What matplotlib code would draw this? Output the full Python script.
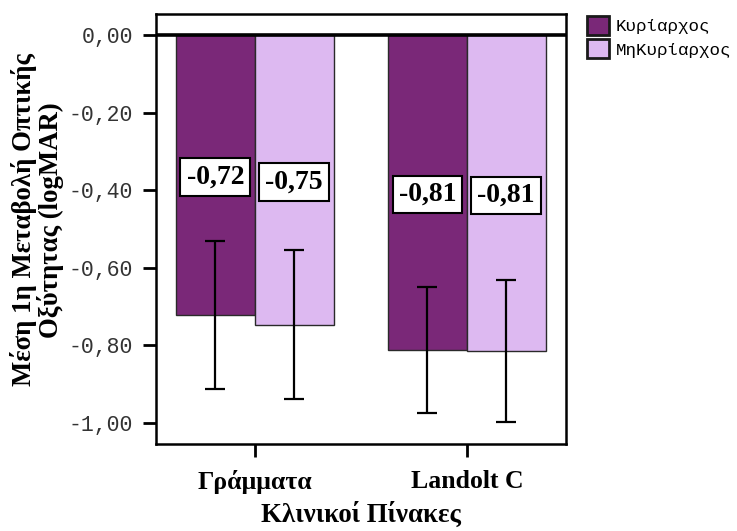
import numpy as np
import matplotlib
matplotlib.use("Agg")
import matplotlib.pyplot as plt
from matplotlib.patches import Patch

# mean change of visual acuity per chart type, dominant / non-dominant eye
categories = ["Γράμματα", "Landolt C"]
groups = ["Κυρίαρχος", "ΜηΚυρίαρχος"]
means = {
    "Κυρίαρχος": [-0.72, -0.81],
    "ΜηΚυρίαρχος": [-0.75, -0.81],
}
bar_heights = {
    "Κυρίαρχος": [-0.722, -0.812],
    "ΜηΚυρίαρχος": [-0.747, -0.815],
}
errors = {
    "Κυρίαρχος": [0.192, 0.163],
    "ΜηΚυρίαρχος": [0.193, 0.183],
}
colors = {"Κυρίαρχος": "#7a2878", "ΜηΚυρίαρχος": "#ddb9f1"}
yticks = [0.0, -0.2, -0.4, -0.6, -0.8, -1.0]

serif = ["Liberation Serif", "DejaVu Serif"]
mono = ["Liberation Mono", "DejaVu Sans Mono"]

fig = plt.figure(figsize=(7.37, 5.31), dpi=100)
ax = fig.add_axes([0.2117, 0.1638, 0.5563, 0.8098])

x = np.arange(len(categories))
width = 0.372
offsets = [-width / 2, width / 2]

for g, off in zip(groups, offsets):
    pos = x + off
    ax.bar(pos, bar_heights[g], width=width, color=colors[g],
           edgecolor="#2a2a2a", linewidth=1.0, zorder=2)
    ax.errorbar(pos, bar_heights[g], yerr=errors[g], fmt="none",
                ecolor="black", elinewidth=1.6, capsize=7.5,
                capthick=1.6, zorder=3)
    for px, h, m in zip(pos, bar_heights[g], means[g]):
        lbl = f"{m:.2f}".replace(".", ",")
        ax.text(px, h / 2 - 0.005, lbl, ha="center", va="center",
                fontsize=20, fontweight="bold", family=serif, zorder=4,
                bbox=dict(boxstyle="square,pad=0.22", fc="white",
                          ec="black", lw=1.5))

ax.axhline(0, color="black", lw=2.6, zorder=5)

ax.set_xlim(-0.466, 1.468)
ax.set_ylim(-1.055, 0.055)
ax.set_yticks(yticks)
ax.set_yticklabels([f"{v:.2f}".replace(".", ",") for v in yticks],
                   family=mono, fontsize=15.5, color="#333333")
ax.set_xticks(x)
ax.set_xticklabels(categories, family=serif, fontsize=18.5, fontweight="bold")

ax.tick_params(axis="both", direction="out", length=9.5, width=2, color="black")
ax.tick_params(axis="y", pad=7)
ax.tick_params(axis="x", pad=9)
for s in ax.spines.values():
    s.set_linewidth(1.8)
    s.set_color("black")

ax.set_ylabel("Μέση 1η Μεταβολή Οπτικής\nΟξύτητας (logMAR)", family=serif,
              fontsize=19.3, fontweight="bold", linespacing=1.0)
ax.yaxis.set_label_coords(-0.224, 0.521)
ax.set_xlabel("Κλινικοί Πίνακες", family=serif, fontsize=19.4,
              fontweight="bold", labelpad=6)

handles = [Patch(facecolor=colors[g], edgecolor="#1a1a1a", linewidth=2)
           for g in groups]
fig.legend(handles, groups, loc="upper left",
           bbox_to_anchor=(0.796, 0.97), frameon=False,
           prop={"family": mono, "size": 12.6},
           handlelength=1.3, handleheight=1.3, borderpad=0,
           handletextpad=0.35, labelspacing=0.25, borderaxespad=0)

fig.savefig("out.png", dpi=100)
